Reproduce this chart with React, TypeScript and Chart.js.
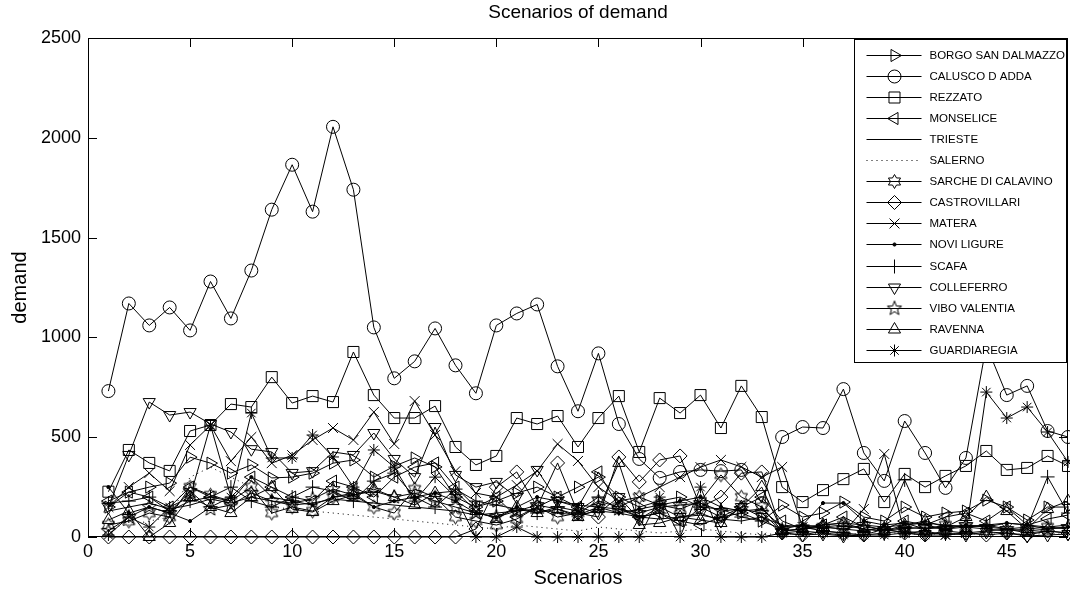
import React, { useEffect, useRef } from 'react';
import { Chart, registerables } from 'chart.js';
import { drawPoint } from 'chart.js/helpers';

Chart.register(...registerables);

const FONT = '"Liberation Sans", Arial, Helvetica, sans-serif';

const chartTitle = 'Scenarios of demand';
const xAxisTitle = 'Scenarios';
const yAxisTitle = 'demand';

const scenarios = [1, 2, 3, 4, 5, 6, 7, 8, 9, 10, 11, 12, 13, 14, 15, 16, 17, 18, 19, 20, 21, 22, 23, 24, 25, 26, 27, 28, 29, 30, 31, 32, 33, 34, 35, 36, 37, 38, 39, 40, 41, 42, 43, 44, 45, 46, 47, 48];
const xTicks = [0, 5, 10, 15, 20, 25, 30, 35, 40, 45];
const yTicks = [0, 500, 1000, 1500, 2000, 2500];

const seriesNames = [
  'BORGO SAN DALMAZZO', 'CALUSCO D ADDA', 'REZZATO', 'MONSELICE', 'TRIESTE', 'SALERNO',
  'SARCHE DI CALAVINO', 'CASTROVILLARI', 'MATERA', 'NOVI LIGURE', 'SCAFA', 'COLLEFERRO',
  'VIBO VALENTIA', 'RAVENNA', 'GUARDIAREGIA',
];

const borgo = [150, 225, 250, 270, 400, 370, 320, 361, 296, 300, 320, 370, 386, 300, 355, 396, 351, 200, 150, 180, 220, 250, 200, 250, 300, 200, 150, 180, 200, 150, 100, 120, 80, 160, 100, 120, 175, 100, 80, 150, 100, 120, 130, 185, 150, 85, 150, 150];
const calusco = [731, 1170, 1060, 1150, 1035, 1280, 1095, 1335, 1640, 1865, 1630, 2055, 1740, 1050, 795, 880, 1045, 860, 720, 1060, 1120, 1165, 855, 630, 920, 566, 391, 296, 326, 336, 330, 336, 170, 501, 551, 546, 741, 421, 281, 581, 421, 246, 396, 960, 711, 757, 531, 501];
const rezzato = [227, 436, 371, 331, 531, 561, 666, 651, 801, 671, 706, 676, 927, 711, 596, 596, 656, 451, 361, 406, 596, 566, 606, 451, 596, 706, 426, 696, 621, 711, 546, 757, 601, 250, 175, 235, 290, 341, 175, 316, 250, 306, 356, 431, 336, 346, 406, 356];
const monselice = [180, 225, 200, 150, 250, 200, 180, 300, 250, 200, 180, 280, 250, 200, 300, 350, 371, 250, 150, 200, 100, 150, 200, 150, 326, 150, 100, 120, 80, 60, 100, 150, 200, 80, 40, 60, 100, 50, 40, 80, 60, 100, 120, 80, 150, 60, 90, 110];
const trieste = [130, 150, 170, 140, 160, 190, 170, 200, 180, 160, 170, 190, 180, 170, 160, 150, 140, 130, 110, 120, 130, 140, 120, 110, 130, 120, 100, 90, 100, 110, 90, 80, 100, 60, 50, 60, 70, 60, 50, 60, 70, 60, 50, 60, 70, 60, 50, 60];
const salerno = [50, 60, 80, 100, 300, 350, 300, 250, 150, 140, 130, 120, 110, 100, 90, 80, 70, 60, 50, 40, 60, 50, 40, 30, 50, 40, 30, 20, 30, 40, 30, 20, 10, 20, 10, 20, 10, 20, 30, 10, 20, 10, 20, 10, 20, 10, 20, 10];
const sarche = [60, 80, 120, 100, 250, 210, 180, 250, 120, 150, 130, 200, 220, 150, 120, 240, 200, 100, 80, 60, 90, 150, 100, 120, 180, 150, 200, 160, 140, 180, 311, 200, 150, 30, 40, 50, 60, 40, 30, 50, 40, 60, 50, 40, 30, 40, 50, 40];
const castrovillari = [0, 0, 0, 0, 0, 0, 0, 0, 0, 0, 0, 0, 0, 0, 0, 0, 0, 0, 40, 250, 326, 150, 371, 120, 100, 401, 276, 386, 406, 150, 200, 320, 326, 20, 10, 30, 20, 10, 40, 20, 10, 30, 20, 10, 20, 10, 30, 20];
const matera = [150, 250, 320, 230, 461, 560, 380, 501, 370, 410, 486, 546, 486, 626, 466, 681, 511, 330, 220, 200, 260, 330, 466, 381, 250, 180, 200, 250, 300, 350, 386, 351, 300, 351, 50, 30, 20, 140, 416, 20, 30, 10, 20, 30, 40, 20, 30, 20];
const noviLigure = [250, 120, 150, 120, 80, 150, 200, 300, 200, 180, 160, 200, 210, 150, 180, 200, 220, 180, 120, 100, 150, 200, 180, 160, 150, 120, 140, 160, 180, 200, 150, 130, 140, 50, 60, 170, 170, 80, 60, 70, 40, 50, 60, 50, 70, 60, 40, 50];
const scafa = [170, 180, 200, 130, 180, 200, 250, 180, 150, 200, 250, 230, 180, 280, 320, 200, 150, 240, 180, 160, 140, 120, 150, 130, 200, 140, 100, 120, 60, 150, 140, 100, 80, 40, 60, 50, 40, 30, 50, 286, 60, 40, 50, 60, 40, 50, 301, 120];
const colleferro = [150, 411, 676, 611, 626, 566, 526, 440, 426, 321, 330, 426, 411, 521, 391, 300, 551, 311, 250, 276, 200, 336, 180, 150, 120, 200, 90, 150, 100, 120, 80, 150, 100, 20, 10, 15, 5, 10, 20, 30, 15, 20, 10, 25, 20, 5, 10, 15];
const vibo = [30, 100, 150, 120, 230, 140, 160, 220, 180, 170, 190, 240, 210, 230, 200, 220, 180, 150, 120, 100, 130, 160, 140, 110, 150, 140, 120, 150, 160, 170, 130, 140, 120, 30, 40, 50, 40, 60, 30, 40, 50, 40, 60, 50, 40, 30, 40, 50];
const ravenna = [85, 130, 0, 70, 200, 150, 120, 200, 250, 140, 125, 180, 210, 240, 200, 160, 220, 230, 130, 90, 150, 120, 140, 100, 140, 371, 60, 70, 100, 85, 70, 150, 250, 30, 40, 60, 70, 40, 30, 60, 80, 50, 100, 200, 130, 40, 140, 180];
const guardiaregia = [10, 100, 50, 150, 200, 560, 200, 621, 396, 396, 511, 401, 250, 436, 350, 180, 300, 200, 0, 0, 50, 0, 0, 0, 0, 0, 0, 200, 0, 250, 0, 0, 0, 20, 30, 20, 10, 10, 10, 20, 10, 10, 20, 726, 596, 651, 526, 376];

const seriesValues = [borgo, calusco, rezzato, monselice, trieste, salerno, sarche, castrovillari, matera, noviLigure, scafa, colleferro, vibo, ravenna, guardiaregia];

function makeStar(points: number, innerRatio: number, R: number): HTMLCanvasElement {
  const size = Math.ceil(R * 2 + 3);
  const c = document.createElement('canvas');
  c.width = size;
  c.height = size;
  const ctx = c.getContext('2d')!;
  ctx.strokeStyle = '#000';
  ctx.lineWidth = 1;
  ctx.beginPath();
  for (let k = 0; k < points * 2; k++) {
    const r = k % 2 === 0 ? R : R * innerRatio;
    const a = -Math.PI / 2 + (k * Math.PI) / points;
    const x = size / 2 + r * Math.cos(a);
    const y = size / 2 + r * Math.sin(a);
    if (k === 0) ctx.moveTo(x, y);
    else ctx.lineTo(x, y);
  }
  ctx.closePath();
  ctx.stroke();
  return c;
}

export default function App() {
  const canvasRef = useRef<HTMLCanvasElement | null>(null);

  useEffect(() => {
    document.body.style.margin = '0';
    const canvas = canvasRef.current;
    if (!canvas) return;

    const hexagram = makeStar(6, 0.5774, 7);
    const pentagram = makeStar(5, 0.42, 7.5);

    const styles: any[] = [
      { pointStyle: 'triangle', rotation: 90, radius: 7 },
      { pointStyle: 'circle', rotation: 0, radius: 6.5 },
      { pointStyle: 'rect', rotation: 0, radius: 7.8 },
      { pointStyle: 'triangle', rotation: -90, radius: 7 },
      { pointStyle: false, rotation: 0, radius: 0 },
      { pointStyle: false, rotation: 0, radius: 0, dash: [1, 4] },
      { pointStyle: hexagram, rotation: 0, radius: 7 },
      { pointStyle: 'rectRot', rotation: 0, radius: 7 },
      { pointStyle: 'crossRot', rotation: 0, radius: 7 },
      { pointStyle: 'circle', rotation: 0, radius: 1.6, fill: true },
      { pointStyle: 'cross', rotation: 0, radius: 7 },
      { pointStyle: 'triangle', rotation: 180, radius: 7 },
      { pointStyle: pentagram, rotation: 0, radius: 7 },
      { pointStyle: 'triangle', rotation: 0, radius: 7 },
      { pointStyle: 'star', rotation: 0, radius: 6 },
    ];

    const datasets = seriesNames.map((name, i) => {
      const st = styles[i];
      return {
        label: name,
        data: scenarios.map((x, j) => ({ x, y: seriesValues[i][j] })),
        borderColor: '#000',
        borderWidth: 1,
        borderDash: st.dash || [],
        pointStyle: st.pointStyle,
        pointRotation: st.rotation,
        pointRadius: st.radius,
        pointBorderColor: '#000',
        pointBackgroundColor: st.fill ? '#000' : 'rgba(0,0,0,0)',
        pointBorderWidth: 1,
        tension: 0,
        fill: false,
        clip: false,
      };
    });

    const decorPlugin = {
      id: 'matlabDecor',
      afterDraw(chart: any) {
        const ctx = chart.ctx as CanvasRenderingContext2D;
        const a = chart.chartArea;
        const xs = chart.scales.x;
        const ys = chart.scales.y;
        ctx.save();
        ctx.strokeStyle = '#000';
        ctx.lineWidth = 1;
        // box
        ctx.strokeRect(Math.round(a.left) + 0.5, Math.round(a.top) + 0.5, Math.round(a.right - a.left) - 1, Math.round(a.bottom - a.top) - 1);
        // inward ticks
        const tl = 9;
        ctx.beginPath();
        xTicks.forEach((v) => {
          const px = Math.round(xs.getPixelForValue(v)) + 0.5;
          ctx.moveTo(px, a.bottom);
          ctx.lineTo(px, a.bottom - tl);
          ctx.moveTo(px, a.top);
          ctx.lineTo(px, a.top + tl);
        });
        yTicks.forEach((v) => {
          const py = Math.round(ys.getPixelForValue(v)) + 0.5;
          ctx.moveTo(a.left, py);
          ctx.lineTo(a.left + tl, py);
          ctx.moveTo(a.right, py);
          ctx.lineTo(a.right - tl, py);
        });
        ctx.stroke();

        // titles
        ctx.fillStyle = '#000';
        ctx.textAlign = 'center';
        ctx.textBaseline = 'middle';
        ctx.font = `19px ${FONT}`;
        ctx.fillText(chartTitle, (a.left + a.right) / 2, 13);
        ctx.font = `20px ${FONT}`;
        ctx.fillText(xAxisTitle, (a.left + a.right) / 2, 578);
        ctx.save();
        ctx.translate(20, (a.top + a.bottom) / 2);
        ctx.rotate(-Math.PI / 2);
        ctx.fillText(yAxisTitle, 0, 0);
        ctx.restore();

        // legend box
        const lw = 212;
        const lh = 323;
        const lx = Math.round(a.right - lw - 2) + 0.5;
        const ly = Math.round(a.top + 1) + 0.5;
        ctx.fillStyle = '#fff';
        ctx.fillRect(lx, ly, lw, lh);
        ctx.strokeStyle = '#000';
        ctx.strokeRect(lx, ly, lw, lh);
        const step = 21.1;
        chart.data.datasets.forEach((ds: any, i: number) => {
          const y = Math.round(ly + 15 + i * step) + 0.5;
          ctx.save();
          ctx.strokeStyle = '#000';
          ctx.lineWidth = 1;
          ctx.setLineDash(ds.borderDash || []);
          ctx.beginPath();
          ctx.moveTo(lx + 12, y);
          ctx.lineTo(lx + 67, y);
          ctx.stroke();
          ctx.setLineDash([]);
          if (ds.pointStyle) {
            ctx.fillStyle = ds.pointBackgroundColor;
            ctx.strokeStyle = '#000';
            drawPoint(ctx, {
              pointStyle: ds.pointStyle,
              rotation: ds.pointRotation,
              radius: ds.pointRadius,
              borderWidth: 1,
            } as any, lx + 40, y);
          }
          ctx.restore();
          ctx.fillStyle = '#000';
          ctx.textAlign = 'left';
          ctx.textBaseline = 'middle';
          ctx.font = `11.5px ${FONT}`;
          ctx.fillText(ds.label, lx + 75, y + 0.5);
        });
        ctx.restore();
      },
    };

    const chart = new Chart(canvas, {
      type: 'line',
      data: { datasets: datasets as any },
      options: {
        animation: false,
        responsive: false,
        devicePixelRatio: 1,
        events: [],
        layout: { autoPadding: false, padding: { top: 38, right: 2, left: 0, bottom: 0 } },
        plugins: {
          legend: { display: false },
          title: { display: false },
          tooltip: { enabled: false },
        },
        scales: {
          x: {
            type: 'linear',
            min: 0,
            max: 48,
            afterFit: (s: any) => { s.height = 57; s.paddingRight = 0; s.paddingLeft = 0; },
            afterBuildTicks: (s: any) => { s.ticks = xTicks.map((v) => ({ value: v })); },
            grid: { display: false, drawTicks: false },
            border: { display: false },
            ticks: { font: { family: FONT, size: 18 }, color: '#000', padding: 4, maxRotation: 0, autoSkip: false, callback: (v: any) => String(v) },
          },
          y: {
            type: 'linear',
            min: 0,
            max: 2500,
            afterFit: (s: any) => { s.width = 88; },
            afterBuildTicks: (s: any) => { s.ticks = yTicks.map((v) => ({ value: v })); },
            grid: { display: false, drawTicks: false },
            border: { display: false },
            ticks: { font: { family: FONT, size: 18 }, color: '#000', padding: 7, autoSkip: false, callback: (v: any) => String(v) },
          },
        },
      } as any,
      plugins: [decorPlugin],
    });

    return () => chart.destroy();
  }, []);

  return (
    <div style={{ width: 1070, height: 594, background: '#fff' }}>
      <canvas ref={canvasRef} width={1070} height={594} style={{ display: 'block', width: 1070, height: 594 }} />
    </div>
  );
}
